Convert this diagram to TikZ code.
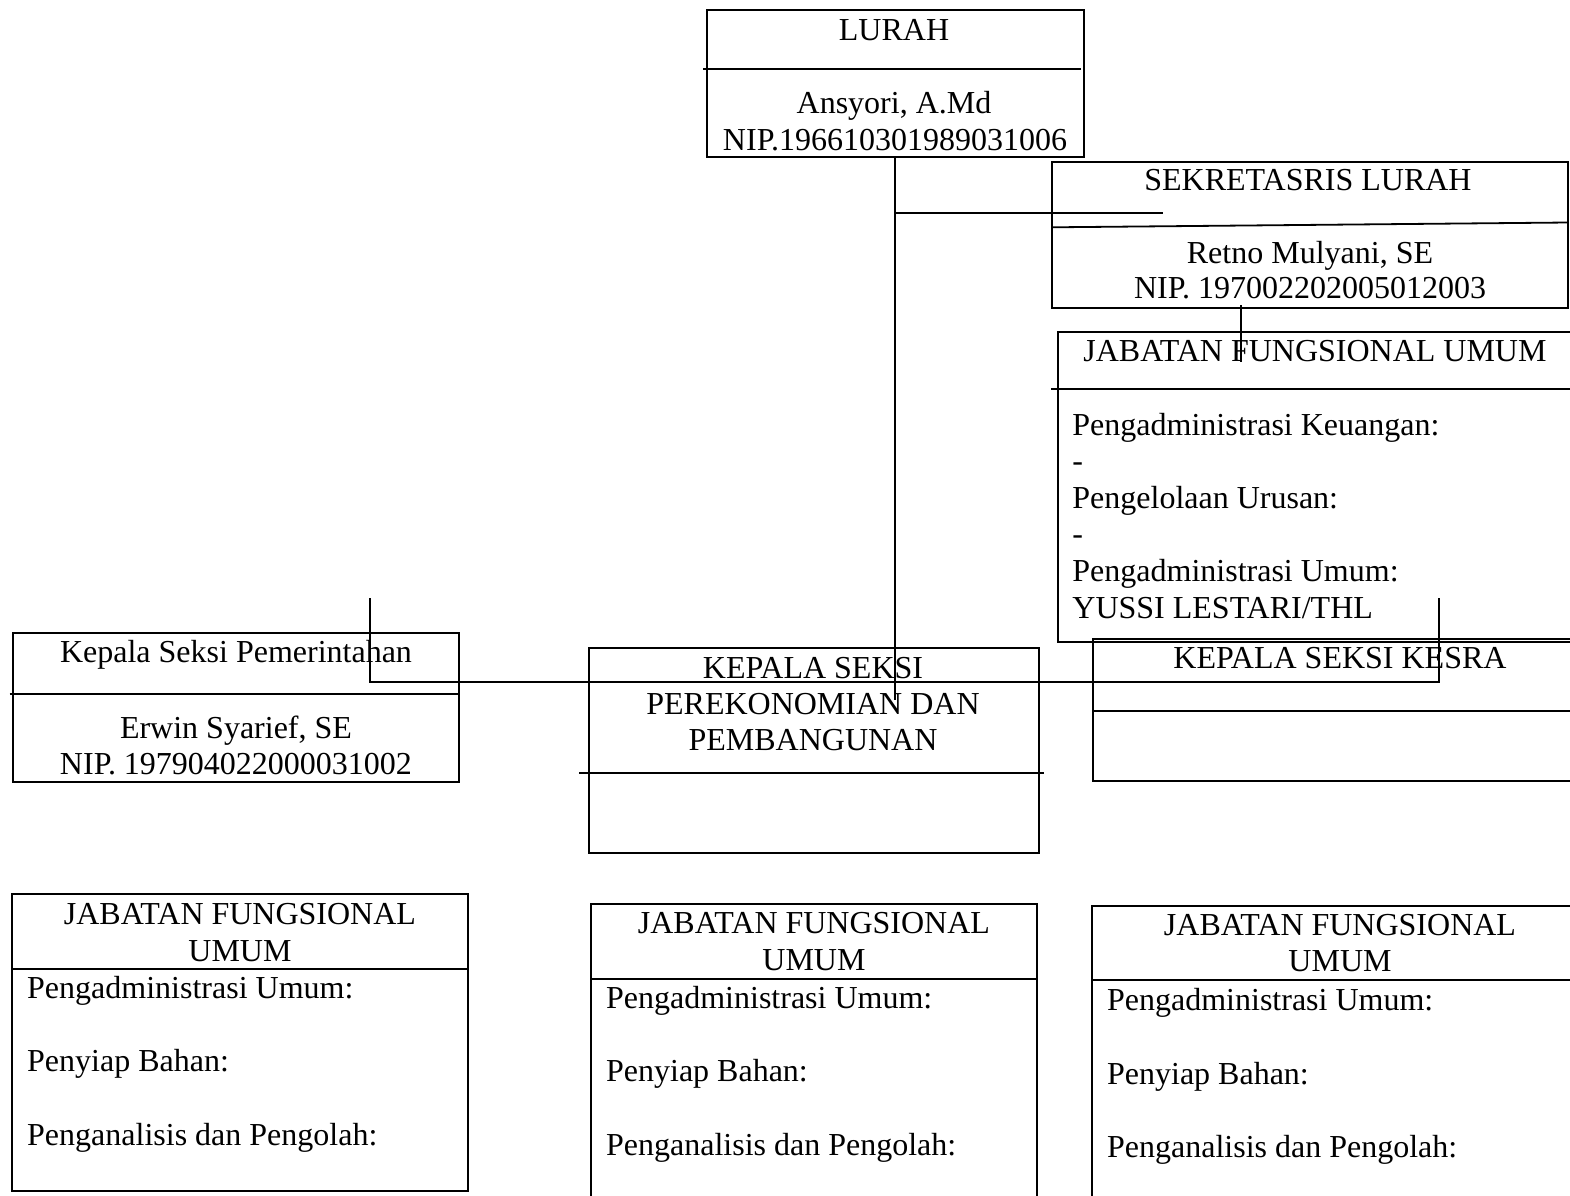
\documentclass[tikz,border=0pt]{standalone}
\usepackage{fontspec}
\setmainfont{Liberation Serif}
\usetikzlibrary{fit}
\begin{document}
\begin{tikzpicture}[x=0.5pt,y=-0.5pt,
  box/.style={draw, line width=1pt, inner sep=0pt, fit={#1}},
  divider/.style={line width=0.9pt},
  conn/.style={line width=0.9pt},
  ctext/.style={anchor=base, inner sep=0pt, font=\fontsize{16}{18.3}\selectfont},
  ltext/.style={anchor=base west, inner sep=0pt, font=\fontsize{16}{18.3}\selectfont}]
\useasboundingbox (0,0) rectangle (1570,1195);
\clip (0,0) rectangle (1570,1195);
\fill[white] (0,0) rectangle (1570,1195);

% ---------- LURAH ----------
\node[box={(706.5,10)(1084,157)}] (lurah) {};
\draw[divider] (703,69) -- (1081,69);
\node[ctext] (lurahT) at (894,40.7) {LURAH};
\node[ctext] (lurahN) at (894,113.3) {Ansyori, A.Md};
\node[ctext] (lurahP) at (895,150) {NIP.196610301989031006};

% ---------- SEKRETARIS ----------
\node[box={(1052,161.5)(1568,308)}] (sek) {};
\draw[divider] (1052,227.3) -- (1568,222.5);
\node[ctext] (sekT) at (1308,190) {SEKRETASRIS LURAH};
\node[ctext] (sekN) at (1310,263.3) {Retno Mulyani, SE};
\node[ctext] (sekP) at (1310,298.3) {NIP. 197002202005012003};

% ---------- JFU (sekretariat) ----------
\node[box={(1057.5,332)(1590,642)}] (jfu0) {};
\draw[divider] (1051,389) -- (1590,389);
\node[ctext] (jfu0T) at (1315,361.7) {JABATAN FUNGSIONAL UMUM};
\node[ltext] (jfu0a) at (1072,435) {Pengadministrasi Keuangan:};
\node[ltext] (jfu0b) at (1072,471.5) {-};
\node[ltext] (jfu0c) at (1072,508) {Pengelolaan Urusan:};
\node[ltext] (jfu0d) at (1072,544.5) {-};
\node[ltext] (jfu0e) at (1072,581.7) {Pengadministrasi Umum:};
\node[ltext] (jfu0f) at (1072,618) {YUSSI LESTARI/THL};

% ---------- Kepala Seksi Pemerintahan ----------
\node[box={(12.5,633.3)(459,782)}] (pem) {};
\draw[divider] (9.5,694) -- (459,694);
\node[ctext] (pemT) at (236,662.7) {Kepala Seksi Pemerintahan};
\node[ctext] (pemN) at (236,738) {Erwin Syarief, SE};
\node[ctext] (pemP) at (236,774) {NIP. 197904022000031002};

% ---------- Kepala Seksi Perekonomian ----------
\node[box={(589,648.3)(1039,852.7)}] (eko) {};
\draw[divider] (579,772.7) -- (1044,772.7);
\node[ctext] (ekoA) at (813,678.3) {KEPALA SEKSI};
\node[ctext] (ekoB) at (813,714) {PEREKONOMIAN DAN};
\node[ctext] (ekoC) at (813,750) {PEMBANGUNAN};

% ---------- Kepala Seksi Kesra ----------
\node[box={(1093,639.3)(1590,781.3)}] (kes) {};
\draw[divider] (1093,711) -- (1590,711);
\node[ctext] (kesT) at (1340,668) {KEPALA SEKSI KESRA};

% ---------- JFU bottom left ----------
\node[box={(12,894)(468,1191)}] (jfu1) {};
\draw[divider] (12,969.3) -- (468,969.3);
\node[ctext] (jfu1T) at (240,924) {JABATAN FUNGSIONAL};
\node[ctext] (jfu1U) at (240,961) {UMUM};
\node[ltext] (jfu1a) at (26.8,998.3) {Pengadministrasi Umum:};
\node[ltext] (jfu1b) at (26.8,1071.7) {Penyiap Bahan:};
\node[ltext] (jfu1c) at (26.8,1145) {Penganalisis dan Pengolah:};

% ---------- JFU bottom middle ----------
\node[box={(591,904)(1037.3,1215)}] (jfu2) {};
\draw[divider] (591,978.7) -- (1037.3,978.7);
\node[ctext] (jfu2T) at (814,933) {JABATAN FUNGSIONAL};
\node[ctext] (jfu2U) at (814,970) {UMUM};
\node[ltext] (jfu2a) at (605.7,1008) {Pengadministrasi Umum:};
\node[ltext] (jfu2b) at (605.7,1081.7) {Penyiap Bahan:};
\node[ltext] (jfu2c) at (605.7,1155) {Penganalisis dan Pengolah:};

% ---------- JFU bottom right ----------
\node[box={(1092.3,905.7)(1590,1215)}] (jfu3) {};
\draw[divider] (1092.3,980) -- (1590,980);
\node[ctext] (jfu3T) at (1340,935) {JABATAN FUNGSIONAL};
\node[ctext] (jfu3U) at (1340,971.7) {UMUM};
\node[ltext] (jfu3a) at (1106.7,1010.7) {Pengadministrasi Umum:};
\node[ltext] (jfu3b) at (1106.7,1084) {Penyiap Bahan:};
\node[ltext] (jfu3c) at (1106.7,1157) {Penganalisis dan Pengolah:};

% ---------- connectors ----------
\coordinate (vEnd) at (894.5,700);
\coordinate (sekJ) at (894.5,213.3);
\coordinate (sekE) at (1163,213.3);
\coordinate (sT) at (1241,305);
\coordinate (sB) at (1241,361.7);
\coordinate (tL) at (370,598);
\coordinate (hL) at (370,681.7);
\coordinate (hR) at (1438.7,681.7);
\coordinate (tR) at (1438.7,598);

\draw[conn] (lurah.south) -- (lurah.south |- vEnd);
\draw[conn] (sekJ) -- (sekE);
\draw[conn] (sT) -- (sB);
\draw[conn] (tL) -- (hL) -- (hR) -- (tR);
\end{tikzpicture}
\end{document}
